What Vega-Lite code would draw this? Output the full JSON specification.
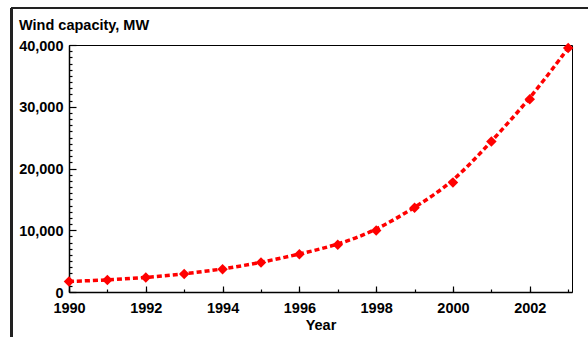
{
  "$schema": "https://vega.github.io/schema/vega-lite/v6.json",
  "width": 503,
  "height": 247,
  "autosize": "none",
  "padding": {"left": 69, "top": 45, "right": 16, "bottom": 45},
  "background": "white",
  "title": {"text": "Wind capacity, MW", "anchor": "start", "frame": "group", "dx": -50, "offset": -27, "font": "Liberation Sans", "fontSize": 14.5, "fontWeight": "bold", "color": "#000"},
  "config": {
    "view": {"stroke": "#000", "strokeWidth": 1},
    "axis": {"grid": false, "labelFlush": false, "labelFont": "Liberation Sans", "labelFontSize": 14.5, "labelFontWeight": "bold", "labelColor": "#000", "titleFont": "Liberation Sans", "titleFontSize": 14.5, "titleFontWeight": "bold", "titleColor": "#000", "domainColor": "#000", "tickColor": "#000", "domainWidth": 1.5, "tickWidth": 1.2}
  },
  "resolve": {"axis": {"x": "independent", "y": "independent"}},
  "data": {"values": [
    {"year": 1990, "mw": 1700},
    {"year": 1991, "mw": 1950},
    {"year": 1992, "mw": 2330},
    {"year": 1993, "mw": 2930},
    {"year": 1994, "mw": 3690},
    {"year": 1995, "mw": 4770},
    {"year": 1996, "mw": 6130},
    {"year": 1997, "mw": 7640},
    {"year": 1998, "mw": 9970},
    {"year": 1999, "mw": 13660},
    {"year": 2000, "mw": 17720},
    {"year": 2001, "mw": 24390},
    {"year": 2002, "mw": 31220},
    {"year": 2003, "mw": 39500}
  ]},
  "layer": [
    {
      "mark": {"type": "rule", "color": "#222", "strokeWidth": 2, "clip": false},
      "encoding": {
        "x": {"datum": 1988.5, "type": "quantitative", "scale": {"domain": [1990, 2003.1], "nice": false, "zero": false}, "axis": null},
        "y": {"datum": 46000, "type": "quantitative", "scale": {"domain": [0, 40000], "nice": false}, "axis": null},
        "y2": {"datum": -9000}
      }
    },
    {
      "mark": {"type": "rule", "color": "#222", "strokeWidth": 2, "clip": false},
      "encoding": {
        "x": {"datum": 1988.5, "type": "quantitative", "axis": null},
        "x2": {"datum": 2006},
        "y": {"datum": 46000, "type": "quantitative", "axis": null}
      }
    },
    {
      "mark": {"type": "line", "color": "#ff0000", "strokeWidth": 3.5, "strokeDash": [5, 3], "interpolate": "basis"},
      "encoding": {
        "x": {"field": "year", "type": "quantitative", "axis": {"orient": "bottom", "values": [1990,1991,1992,1993,1994,1995,1996,1997,1998,1999,2000,2001,2002,2003], "tickSize": -3, "labels": false, "domain": false, "title": null}},
        "y": {"field": "mw", "type": "quantitative", "axis": {"orient": "left", "values": [1000,2000,3000,4000,5000,6000,7000,8000,9000,11000,12000,13000,14000,15000,16000,17000,18000,19000,21000,22000,23000,24000,25000,26000,27000,28000,29000,31000,32000,33000,34000,35000,36000,37000,38000,39000], "tickSize": -3, "labels": false, "domain": false, "title": null}}
      }
    },
    {
      "mark": {"type": "point", "shape": "diamond", "filled": true, "color": "#ff0000", "size": 110, "opacity": 1},
      "encoding": {
        "x": {"field": "year", "type": "quantitative", "axis": {"orient": "bottom", "values": [1990,1992,1994,1996,1998,2000,2002], "format": "d", "tickSize": -6, "labelPadding": 15, "title": "Year", "titlePadding": 4}},
        "y": {"field": "mw", "type": "quantitative", "axis": {"orient": "left", "values": [0,10000,20000,30000,40000], "format": ",d", "tickSize": -7, "labelPadding": 13, "labelOffset": 1, "title": null}}
      }
    }
  ]
}
